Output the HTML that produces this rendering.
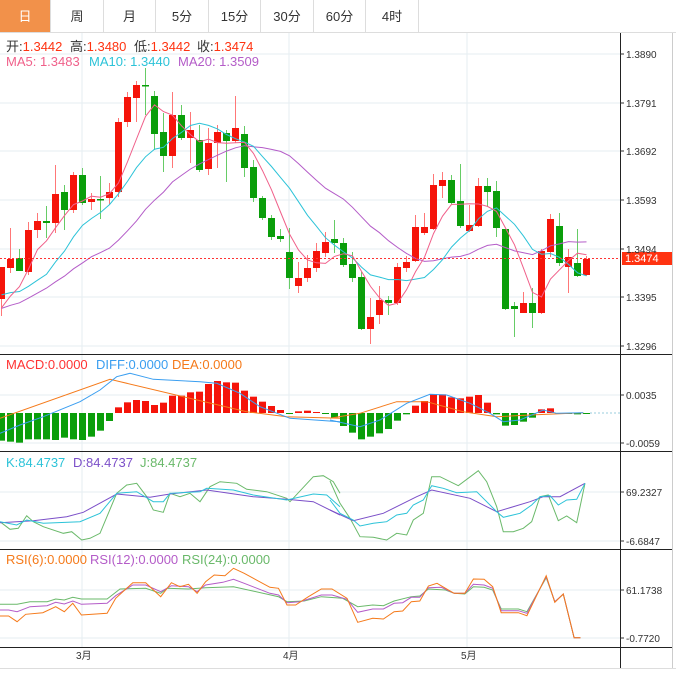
<!DOCTYPE html>
<html><head><meta charset="utf-8"><style>
body{margin:0;width:676px;height:684px;background:#fff;overflow:hidden;font-family:"Liberation Sans","Noto Sans CJK SC",sans-serif}
#tabs{position:absolute;left:0;top:0;width:676px;height:32px;border-bottom:1px solid #ddd}
.t{position:absolute;top:0;height:32px;line-height:34px;text-align:center;font-size:13px;color:#333;border-right:1px solid #ddd;box-sizing:border-box}
svg{position:absolute;left:0;top:0}
</style></head><body>
<div id="tabs">
<div class="t" style="left:0;width:51px;background:#f2914a;color:#fff">日</div>
<div class="t" style="left:51px;width:53px">周</div>
<div class="t" style="left:104px;width:52px">月</div>
<div class="t" style="left:156px;width:53px">5分</div>
<div class="t" style="left:209px;width:52px">15分</div>
<div class="t" style="left:261px;width:53px">30分</div>
<div class="t" style="left:314px;width:52px">60分</div>
<div class="t" style="left:366px;width:53px">4时</div>
</div>
<svg id="s" width="676" height="684" xmlns="http://www.w3.org/2000/svg" font-family="Liberation Sans, Noto Sans CJK SC, sans-serif">
<g id="grid" stroke="#e6edf2" stroke-width="1"></g>
<g id="main"></g>
<g font-size="13">
<text y="51" fill="#333"><tspan x="6">开:</tspan><tspan fill="#f31">1.3442</tspan><tspan x="70">高:</tspan><tspan fill="#f31">1.3480</tspan><tspan x="134">低:</tspan><tspan fill="#f31">1.3442</tspan><tspan x="197">收:</tspan><tspan fill="#f31">1.3474</tspan></text>
<text y="66" fill="#f0608a"><tspan x="6">MA5: 1.3483</tspan><tspan x="89" fill="#2cc3d8">MA10: 1.3440</tspan><tspan x="178" fill="#b45cc8">MA20: 1.3509</tspan></text>
<text y="369" fill="#f33"><tspan x="6">MACD:0.0000</tspan><tspan x="96" fill="#3a9ef0">DIFF:0.0000</tspan><tspan x="172" fill="#f57a1a">DEA:0.0000</tspan></text>
<text y="467" fill="#2cc3d8"><tspan x="6">K:84.4737</tspan><tspan x="73" fill="#7b4fc8">D:84.4737</tspan><tspan x="140" fill="#6ab96a">J:84.4737</tspan></text>
<text y="564" fill="#f57a1a"><tspan x="6">RSI(6):0.0000</tspan><tspan x="90" fill="#b45cc8">RSI(12):0.0000</tspan><tspan x="182" fill="#6ab96a">RSI(24):0.0000</tspan></text>
</g>
<g font-size="10" fill="#333" id="ax">
<text x="626" y="58">1.3890</text><text x="626" y="107">1.3791</text><text x="626" y="155">1.3692</text><text x="626" y="204">1.3593</text><text x="626" y="253">1.3494</text><text x="626" y="301">1.3395</text><text x="626" y="350">1.3296</text>
<text x="626" y="399">0.0035</text><text x="626" y="447">-0.0059</text>
<text x="626" y="496">69.2327</text><text x="626" y="545">-6.6847</text>
<text x="626" y="594">61.1738</text><text x="626" y="642">-0.7720</text>
<text x="76" y="659">3月</text><text x="283" y="659">4月</text><text x="461" y="659">5月</text>
</g>
<rect x="622" y="252" width="50" height="13" fill="#f31"/>
<text x="625" y="262" font-size="11" fill="#fff">1.3474</text>
</svg>
<script>
const NS="http://www.w3.org/2000/svg",S=document.getElementById('s'),G=document.getElementById('grid'),M=document.getElementById('main');
function el(p,t,a){const e=document.createElementNS(NS,t);for(const k in a)e.setAttribute(k,a[k]);p.appendChild(e);return e}
[54,103,151,200,249,297,346,395,443,492,541,590,638].forEach(y=>el(G,'line',{x1:0,x2:620,y1:y,y2:y}));
[82,289,467].forEach(x=>el(G,'line',{x1:x,x2:x,y1:33,y2:647}));
const B={stroke:'#222','stroke-width':1};
[354,451,549,647].forEach(y=>el(S,'line',Object.assign({x1:0,x2:672,y1:y+.5,y2:y+.5},B)));
el(S,'line',Object.assign({x1:620.5,x2:620.5,y1:33,y2:668},B));
el(S,'line',{x1:672.5,x2:672.5,y1:33,y2:668,stroke:'#ccc'});
el(S,'line',{x1:0,x2:676,y1:668.5,y2:668.5,stroke:'#ddd'});
[54,103,151,200,249,297,346,395,443,492,541,590,638].forEach(y=>el(S,'line',{x1:620,x2:624,y1:y,y2:y,stroke:'#333'}));
const C=[[299,267,267,316],[268,259,228,273],[258,271,249,271],[272,230,222,275],[230,221,213,238],[221,223,206,238],[223,194,165,233],[192,210,185,230],[210,175,172,213],[175,203,168,205],[202,199,193,210],[199,199,176,219],[198,192,183,205],[192,122,118,197],[122,97,92,127],[98,85,81,122],[85,86,68,115],[96,134,91,150],[132,156,113,172],[156,115,92,168],[115,138,105,140],[138,130,112,163],[140,170,125,172],[169,143,128,175],[143,132,125,168],[133,141,130,182],[141,128,96,143],[134,168,126,177],[167,198,160,202],[198,218,196,220],[218,237,215,240],[236,239,229,242],[252,278,228,289],[286,278,262,293],[278,268,255,282],[268,251,243,272],[253,242,232,257],[239,243,220,253],[243,265,238,267],[264,278,252,282],[277,329,272,330],[329,317,298,344],[315,300,286,324],[300,303,296,315],[303,267,263,305],[268,262,256,272],[261,227,215,262],[233,227,213,235],[229,185,174,230],[186,180,172,198],[180,203,175,204],[201,226,164,228],[231,225,205,232],[226,186,178,227],[186,192,178,207],[191,228,181,237],[229,309,229,310],[306,309,302,337],[313,303,292,313],[303,313,288,328],[313,251,249,314],[252,219,214,257],[226,263,213,266],[267,257,249,293],[263,276,229,277],[275,259,256,276]];
const X=i=>1.5+9*i;
const pad=[].concat(Array(10).fill(322),Array(5).fill(282),Array(4).fill(318));
const cl=pad.concat(C.map(c=>c[1]));
function ma(n,col){let p=[];for(let i=0;i<C.length;i++){let k=i+19,s=0;for(let j=0;j<n;j++)s+=cl[k-j];p.push(X(i).toFixed(1)+','+(s/n).toFixed(1))}el(M,'polyline',{points:p.join(' '),fill:'none',stroke:col,'stroke-width':1})}
C.forEach((c,i)=>{const col=c[1]<=c[0]&&!(i==11||i==16)?'#f5140a':'#0a9e0a';const wc=col=='#f5140a'?'#f77':'#6c6';const x=X(i);
el(M,'line',{x1:x,x2:x,y1:c[2],y2:c[3],stroke:wc,'stroke-width':1});
const t=Math.min(c[0],c[1]),h=Math.max(1.5,Math.abs(c[0]-c[1]));el(M,'rect',{x:x-3.5,y:t,width:7,height:h,fill:col});});
ma(20,'#b45cc8');ma(10,'#2cc3d8');ma(5,'#f0608a');
el(M,'line',{x1:0,x2:620,y1:258.5,y2:258.5,stroke:'#f33','stroke-dasharray':'2,2'});
const H=[272,275,278,268,268,268,270,263,268,270,260,242,213,172,157,150,153,165,158,137,137,127,125,102,93,97,98,122,140,155,168,180,192,184,182,186,189,203,228,248,268,260,250,237,212,193,167,153,132,133,142,145,140,135,158,193,227,225,215,203,178,175,190,190,193,190];
H.forEach((z,i)=>{const y=350+z/3,y0=413;const col=y<y0?'#f5140a':'#0a9e0a';el(M,'rect',{x:X(i)-3.5,y:Math.min(y,y0),width:7,height:Math.max(1,Math.abs(y-y0)),fill:col})});
el(M,'line',{x1:590,x2:620,y1:413,y2:413,stroke:'#9cd','stroke-dasharray':'2,2'});
function pl(a,ox,oy,col,sx){sx=sx||1/3;el(M,'polyline',{points:a.map(p=>(ox+p[0]*sx).toFixed(1)+','+(oy+p[1]/3).toFixed(1)).join(' '),fill:'none',stroke:col,'stroke-width':1})}
pl([[0,205],[330,88],[740,185],[860,200],[1020,205]],0,350,'#f57a1a');
pl([[0,205],[90,190],[200,155],[290,155],[400,185],[500,200],[600,195],[760,188]],330,350,'#f57a1a');
pl([[0,250],[60,225],[130,200],[240,155],[300,120],[350,80],[390,70],[460,88],[600,95],[650,100],[720,130],[780,170],[870,205],[1020,215]],0,350,'#3a9ef0');
pl([[0,210],[90,230],[150,210],[230,160],[300,133],[350,135],[420,160],[480,190],[520,215],[570,210],[640,180],[680,190],[760,188]],330,350,'#3a9ef0');
pl([[0,515],[30,538],[55,535],[80,497],[100,515],[130,530],[190,550],[215,545],[245,570],[270,565],[300,550],[350,430],[380,405],[410,400],[440,440],[460,480],[490,487],[510,430],[540,440],[570,430],[600,455],[630,410],[660,395],[710,400],[740,418],[800,425],[860,445],[870,455],[940,380],[970,377],[1000,395],[1020,430]],0,350,'#6ab96a');
pl([[0,393],[30,460],[60,505],[90,560],[130,562],[170,570],[200,550],[230,555],[250,510],[280,490],[305,380],[330,380],[385,407],[445,362],[470,395],[500,470],[520,545],[550,545],[580,535],[605,515],[630,440],[655,435],[685,512],[710,498],[740,518],[765,400]],330,350,'#6ab96a');
pl([[0,518],[100,512],[200,500],[250,487],[350,432],[450,442],[510,432],[620,420],[760,440],[860,448],[940,455],[1020,495]],0,350,'#7b4fc8');
pl([[0,480],[70,512],[160,490],[260,440],[305,420],[420,445],[500,485],[600,455],[640,440],[690,440],[765,400]],330,350,'#7b4fc8');
pl([[0,515],[50,525],[80,510],[130,520],[240,515],[300,490],[350,430],[410,425],[460,455],[490,455],[510,430],[600,425],[620,415],[700,420],[760,435],[860,450],[940,432],[980,435],[1020,470]],0,350,'#2cc3d8');
pl([[0,450],[30,490],[70,510],[90,528],[130,520],[170,515],[200,495],[230,490],[250,465],[280,450],[305,407],[340,415],[380,428],[440,425],[500,485],[520,502],[570,490],[605,465],[630,440],[660,437],[685,465],[710,450],[740,448],[765,400]],330,350,'#2cc3d8');
const R=0.4284;
pl([[0,178],[40,178],[70,170],[110,170],[130,162],[150,165],[170,157],[190,162],[250,162],[280,132],[340,130],[375,145],[390,130],[440,132],[480,128],[545,125],[650,155],[670,170],[710,168],[750,155],[800,160],[835,185],[870,180],[895,182],[920,168],[960,155],[980,153],[1000,132],[1040,135],[1060,145],[1085,147],[1105,125],[1130,127],[1150,135],[1170,192],[1210,192],[1230,200],[1275,98],[1295,170],[1315,148],[1340,278],[1355,278]],0,545,'#6ab96a',R);
pl([[0,195],[20,195],[40,200],[70,185],[110,182],[130,172],[150,177],[170,168],[190,178],[250,175],[270,152],[310,120],[340,120],[375,140],[400,122],[440,125],[460,140],[480,120],[520,112],[545,103],[570,115],[630,145],[650,150],[670,173],[700,170],[750,150],[775,150],[810,163],[835,202],[870,192],[895,192],[920,175],[940,173],[960,157],[980,157],[1000,128],[1030,127],[1060,145],[1085,145],[1105,118],[1130,120],[1150,130],[1170,197],[1210,197],[1230,205],[1275,95],[1295,170],[1315,147],[1340,278],[1355,278]],0,545,'#b45cc8',R);
pl([[0,213],[20,213],[40,230],[60,208],[100,203],[130,185],[150,200],[170,175],[190,210],[250,205],[270,160],[310,113],[340,113],[375,155],[400,113],[420,125],[440,118],[460,145],[480,110],[500,90],[525,92],[545,70],[570,85],[630,127],[650,130],[670,180],[690,180],[720,155],[750,132],[775,132],[810,160],[835,232],[870,220],[895,222],[920,200],[940,198],[960,170],[980,168],[1000,123],[1020,115],[1040,130],[1060,145],[1085,145],[1105,102],[1130,103],[1150,125],[1170,203],[1210,203],[1230,212],[1275,92],[1295,172],[1315,147],[1340,278],[1355,278]],0,545,'#f57a1a',R);
S.appendChild(document.getElementById('ax'));
</script>
</body></html>
